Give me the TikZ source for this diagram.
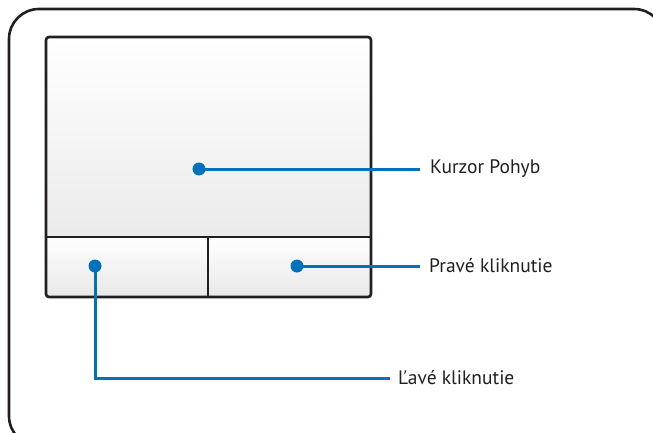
\documentclass[tikz,border=0pt]{standalone}
\usepackage{fontspec}
\setmainfont{PT Sans}
\definecolor{dotblue}{RGB}{0,114,188}
\definecolor{frameblack}{RGB}{35,31,32}
\begin{document}
\begin{tikzpicture}[x=1pt,y=-1pt,
  frameline/.style={draw=frameblack,line width=2.6pt},
  padfill/.style={top color=white,bottom color=black!8},
  dotnode/.style={circle,fill=dotblue,inner sep=0pt,minimum size=13pt},
  leader/.style={draw=dotblue,line width=3pt},
  lbl/.style={anchor=west,inner sep=0pt,font=\fontsize{19.5}{21}\selectfont,text=frameblack}]
\useasboundingbox (0,0) rectangle (653,433);
\begin{scope}
\clip (0,0) rectangle (653,433);
\draw[frameline,rounded corners=30pt] (9,9) rectangle (664,446);
\end{scope}
% touchpad
\shade[padfill] (46,37) rectangle (371,237);
\shade[top color=white,bottom color=black!9] (46,237) rectangle (208,297);
\shade[top color=white,bottom color=black!9] (208,237) rectangle (371,297);
\draw[frameline,rounded corners=3pt] (46,37) rectangle (371,297);
\draw[frameline] (46,237) -- (371,237);
\draw[frameline] (208,237) -- (208,297);
% dots
\node[dotnode] (d1) at (199,169) {};
\node[dotnode] (d2) at (297,266) {};
\node[dotnode] (d3) at (95,266) {};
% labels
\node[lbl] (l1) at (430,169) {Kurzor Pohyb};
\node[lbl] (l2) at (429,266) {Pravé kliknutie};
\node[lbl] (l3) at (398,378) {Ľavé kliknutie};
\coordinate (e1) at (420,169);
\coordinate (e2) at (420,266);
\coordinate (e3) at (390,378);
\draw[leader] (d1.center) -- (e1);
\draw[leader] (d2.center) -- (e2);
\draw[leader] (d3.center) |- (e3);
\end{tikzpicture}
\end{document}
